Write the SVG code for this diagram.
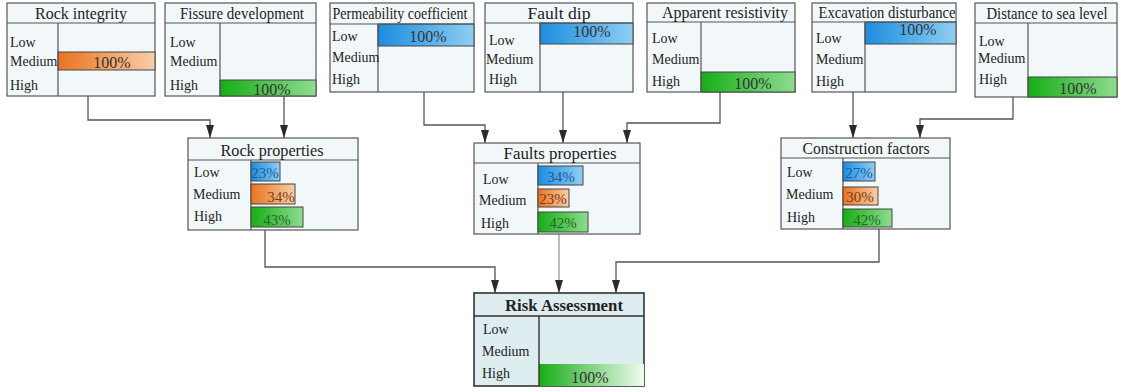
<svg xmlns="http://www.w3.org/2000/svg" width="1121" height="392" viewBox="0 0 1121 392" font-family="'Liberation Serif', 'DejaVu Serif', serif">
<style>
text{font-family:'Liberation Serif','DejaVu Serif',serif;fill:#222}
.box{fill:#f2f8fa;stroke:#555;stroke-width:1.2}
.rbox{fill:#deedf0;stroke:#333;stroke-width:1.6}
.ln{stroke:#555;stroke-width:1.2;fill:none}
.title{font-size:16px;text-anchor:middle}
.lab{font-size:14px}
.pct{font-size:16px;text-anchor:middle;fill:#333}
.sp{font-size:15px;text-anchor:middle}
.bb{stroke:#444;stroke-width:1}
.con{stroke:#555;stroke-width:1.3;fill:none;marker-end:url(#ah)}
</style>
<defs>
<marker id="ah" viewBox="0 0 13 8" refX="13" refY="4" markerWidth="13" markerHeight="8" orient="auto" markerUnits="userSpaceOnUse"><path d="M0,0 L13,4 L0,8 Z" fill="#2a2a2a"/></marker>
<linearGradient id="gO" x1="0" x2="1" y1="0" y2="0"><stop offset="0" stop-color="#e97320"/><stop offset="1" stop-color="#f7cfa8"/></linearGradient>
<linearGradient id="gG" x1="0" x2="1" y1="0" y2="0"><stop offset="0" stop-color="#17ad17"/><stop offset="1" stop-color="#8fdc8f"/></linearGradient>
<linearGradient id="gB" x1="0" x2="1" y1="0" y2="0"><stop offset="0" stop-color="#1c8de0"/><stop offset="1" stop-color="#8fcdf2"/></linearGradient>
<linearGradient id="gW" x1="0" x2="1" y1="0" y2="0"><stop offset="0" stop-color="#17ad17"/><stop offset="1" stop-color="#f2fbf2"/></linearGradient>
</defs>

<g id="connectors">
<path class="con" d="M88 96 V120 H210 V138"/>
<path class="con" d="M284 96 V138"/>
<path class="con" d="M424 92 V125 H485 V143"/>
<path class="con" d="M563 92 V143"/>
<path class="con" d="M720 92 V123 H627 V143"/>
<path class="con" d="M853 92 V138"/>
<path class="con" d="M1013 97 V119 H920 V138"/>
<path class="con" d="M265 230 V267 H495 V293"/>
<path class="con" style="stroke:#999" d="M559 234 V293"/>
<path class="con" d="M879 229 V262 H616 V293"/>
</g>

<g id="rock-integrity">
<rect class="box" x="7" y="3" width="148" height="93"/>
<rect x="58" y="52" width="97" height="18" fill="url(#gO)" class="bb"/>
<path class="ln" d="M7 23 H155 M58 23 V96"/>
<text class="title" x="81" y="19" textLength="92" lengthAdjust="spacingAndGlyphs">Rock integrity</text>
<text class="lab" x="10" y="47">Low</text><text class="lab" x="10" y="66">Medium</text><text class="lab" x="10" y="90">High</text>
<text class="pct" x="112" y="68">100%</text>
</g>

<g id="fissure-development">
<rect class="box" x="165" y="3" width="151" height="93"/>
<rect x="220" y="80" width="96" height="16" fill="url(#gG)" class="bb"/>
<path class="ln" d="M165 23 H316 M220 23 V96"/>
<text class="title" x="242" y="19" textLength="124" lengthAdjust="spacingAndGlyphs">Fissure development</text>
<text class="lab" x="170" y="47">Low</text><text class="lab" x="170" y="66">Medium</text><text class="lab" x="170" y="90">High</text>
<text class="pct" x="272" y="95">100%</text>
</g>

<g id="permeability-coefficient">
<rect class="box" x="330" y="3" width="144" height="89"/>
<rect x="378" y="24" width="96" height="22" fill="url(#gB)" class="bb"/>
<path class="ln" d="M330 24 H474 M378 24 V92"/>
<text class="title" x="400" y="19" textLength="135" lengthAdjust="spacingAndGlyphs">Permeability coefficient</text>
<text class="lab" x="332" y="41">Low</text><text class="lab" x="332" y="62">Medium</text><text class="lab" x="332" y="84">High</text>
<text class="pct" x="428" y="42">100%</text>
</g>

<g id="fault-dip">
<rect class="box" x="485" y="3" width="148" height="89"/>
<rect x="540" y="23" width="93" height="21" fill="url(#gB)" class="bb"/>
<path class="ln" d="M485 23 H633 M540 23 V92"/>
<text class="title" x="559" y="19" textLength="63" lengthAdjust="spacingAndGlyphs">Fault dip</text>
<text class="lab" x="489" y="45">Low</text><text class="lab" x="486" y="64">Medium</text><text class="lab" x="489" y="84">High</text>
<text class="pct" x="592" y="37">100%</text>
</g>

<g id="apparent-resistivity">
<rect class="box" x="647" y="3" width="148" height="89"/>
<rect x="701" y="72" width="94" height="20" fill="url(#gG)" class="bb"/>
<path class="ln" d="M647 22 H795 M701 22 V92"/>
<text class="title" x="725" y="18" textLength="126" lengthAdjust="spacingAndGlyphs">Apparent  resistivity</text>
<text class="lab" x="652" y="43">Low</text><text class="lab" x="652" y="64">Medium</text><text class="lab" x="652" y="86">High</text>
<text class="pct" x="753" y="89">100%</text>
</g>

<g id="excavation-disturbance">
<rect class="box" x="812" y="3" width="144" height="89"/>
<rect x="865" y="22" width="91" height="22" fill="url(#gB)" class="bb"/>
<path class="ln" d="M812 22 H956 M865 22 V92"/>
<text class="title" x="887" y="18" textLength="137" lengthAdjust="spacingAndGlyphs">Excavation disturbance</text>
<text class="lab" x="816" y="43">Low</text><text class="lab" x="816" y="64">Medium</text><text class="lab" x="816" y="86">High</text>
<text class="pct" x="918" y="35">100%</text>
</g>

<g id="distance-to-sea-level">
<rect class="box" x="975" y="3" width="142" height="94"/>
<rect x="1028" y="77" width="89" height="20" fill="url(#gG)" class="bb"/>
<path class="ln" d="M975 23 H1117 M1028 23 V97"/>
<text class="title" x="1047" y="19" textLength="121" lengthAdjust="spacingAndGlyphs">Distance to sea level</text>
<text class="lab" x="979" y="46">Low</text><text class="lab" x="978" y="63">Medium</text><text class="lab" x="979" y="84">High</text>
<text class="pct" x="1078" y="94">100%</text>
</g>

<g id="rock-properties">
<rect class="box" x="188" y="138" width="170" height="92"/>
<path class="ln" d="M188 160 H358 M251 160 V230"/>
<rect x="251" y="162" width="29" height="19" fill="url(#gB)" class="bb"/>
<rect x="251" y="184" width="44" height="20" fill="url(#gO)" class="bb"/>
<rect x="251" y="207" width="52" height="20" fill="url(#gG)" class="bb"/>
<text class="title" x="272" y="156" textLength="103" lengthAdjust="spacingAndGlyphs">Rock  properties</text>
<text class="lab" x="194" y="177">Low</text><text class="lab" x="193" y="199">Medium</text><text class="lab" x="194" y="221">High</text>
<text class="sp" x="265" y="178" style="fill:#1d5a9a">23%</text>
<text class="sp" x="281" y="202" style="fill:#7a3c12">34%</text>
<text class="sp" x="277" y="225" style="fill:#1f6a1f">43%</text>
</g>

<g id="faults-properties">
<rect class="box" x="474" y="143" width="166" height="91"/>
<path class="ln" d="M474 163 H640 M538 163 V234"/>
<rect x="538" y="166" width="45" height="19" fill="url(#gB)" class="bb"/>
<rect x="538" y="189" width="31" height="18" fill="url(#gO)" class="bb"/>
<rect x="538" y="212" width="50" height="20" fill="url(#gG)" class="bb"/>
<text class="title" x="560" y="159" textLength="113" lengthAdjust="spacingAndGlyphs">Faults  properties</text>
<text class="lab" x="483" y="184">Low</text><text class="lab" x="479" y="205">Medium</text><text class="lab" x="481" y="228">High</text>
<text class="sp" x="561" y="182" style="fill:#1d5a9a">34%</text>
<text class="sp" x="553" y="204" style="fill:#7a3c12">23%</text>
<text class="sp" x="563" y="228" style="fill:#1f6a1f">42%</text>
</g>

<g id="construction-factors">
<rect class="box" x="781" y="138" width="169" height="91"/>
<path class="ln" d="M781 158 H950 M843 158 V229"/>
<rect x="843" y="162" width="32" height="19" fill="url(#gB)" class="bb"/>
<rect x="843" y="187" width="35" height="18" fill="url(#gO)" class="bb"/>
<rect x="843" y="209" width="49" height="18" fill="url(#gG)" class="bb"/>
<text class="title" x="866" y="154" textLength="127" lengthAdjust="spacingAndGlyphs">Construction factors</text>
<text class="lab" x="787" y="177">Low</text><text class="lab" x="786" y="199">Medium</text><text class="lab" x="787" y="222">High</text>
<text class="sp" x="859" y="178" style="fill:#1d5a9a">27%</text>
<text class="sp" x="860" y="202" style="fill:#7a3c12">30%</text>
<text class="sp" x="867" y="225" style="fill:#1f6a1f">42%</text>
</g>

<g id="risk-assessment">
<rect class="rbox" x="474" y="293" width="170" height="93"/>
<rect x="539" y="364" width="105" height="22" fill="url(#gW)"/>
<path class="ln" d="M474 316 H644 M539 316 V386" style="stroke:#333;stroke-width:1.4"/>
<text class="title" x="564" y="311" textLength="118" lengthAdjust="spacingAndGlyphs" style="font-weight:bold">Risk  Assessment</text>
<text class="lab" x="483" y="334">Low</text><text class="lab" x="482" y="356">Medium</text><text class="lab" x="482" y="378">High</text>
<text class="pct" x="590" y="383">100%</text>
</g>
</svg>
